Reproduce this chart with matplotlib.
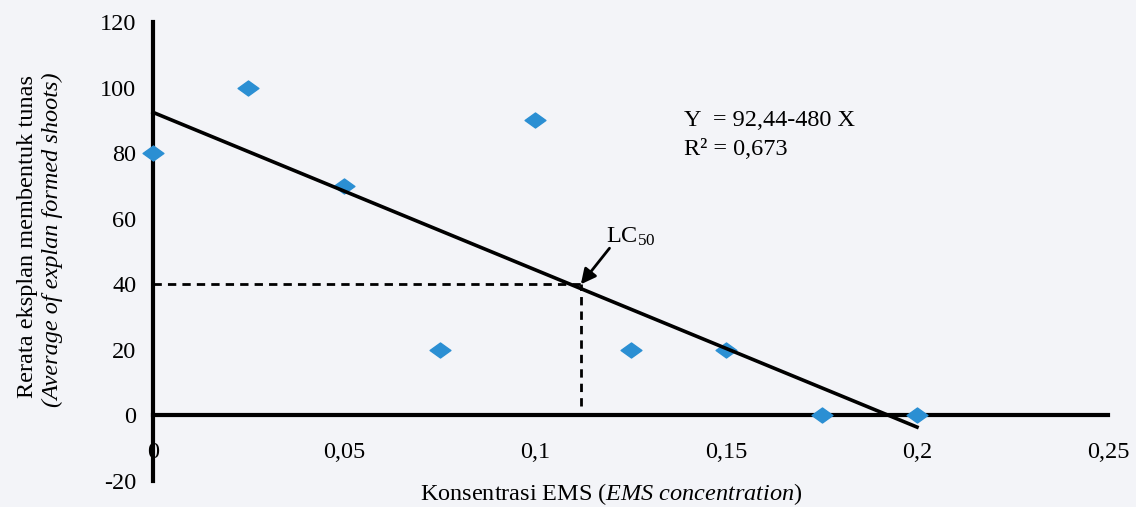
import numpy as np
import matplotlib.pyplot as plt
from matplotlib.path import Path

# EMS concentration (%) and mean explants forming shoots
ems = [0, 0.025, 0.05, 0.075, 0.1, 0.125, 0.15, 0.175, 0.2]
shoots = [80, 100, 70, 20, 90, 20, 20, 0, 0]

x_ticks = [0, 0.05, 0.1, 0.15, 0.2, 0.25]
x_labels = ['0', '0,05', '0,1', '0,15', '0,2', '0,25']
y_ticks = [-20, 0, 20, 40, 60, 80, 100, 120]

lc50_x = 0.112
lc50_y = 40

plt.rcParams['font.family'] = ['Liberation Serif', 'DejaVu Serif']
plt.rcParams['mathtext.fontset'] = 'custom'
plt.rcParams['mathtext.rm'] = 'Liberation Serif'
plt.rcParams['mathtext.it'] = 'Liberation Serif:italic'
plt.rcParams['axes.unicode_minus'] = False

BG = '#f3f4f8'
BLUE = '#2b8fd3'
FS = 17.5

fig = plt.figure(figsize=(11.36, 5.07), dpi=100, facecolor=BG)
ax = fig.add_axes([153/1136, 1 - 481/507, (1108 - 153)/1136, (481 - 22)/507])
ax.set_facecolor(BG)
ax.set_xlim(0, 0.25)
ax.set_ylim(-20, 120)

# flattened diamond like the excel marker
diamond = Path([(-1, 0), (0, 0.72), (1, 0), (0, -0.72), (-1, 0)],
               [Path.MOVETO, Path.LINETO, Path.LINETO, Path.LINETO, Path.CLOSEPOLY])

# linear fit
slope, icpt = np.polyfit(ems, shoots, 1)
fx = np.array([ems[0], ems[-1]])
ax.plot(fx, icpt + slope * fx, color='black', lw=2.6, clip_on=False, zorder=4)

ax.plot(ems, shoots, linestyle='none', marker=diamond, ms=15,
        color=BLUE, mec=BLUE, clip_on=False, zorder=3)

# LC50 guides
ax.plot([0, lc50_x], [lc50_y, lc50_y], color='black', lw=2, ls=(0, (3, 2.2)), zorder=2)
ax.plot([lc50_x, lc50_x], [3, lc50_y], color='black', lw=2, ls=(0, (3, 2.2)), zorder=2)

ax.annotate('', xy=(lc50_x, lc50_y), xytext=(0.1195, 51),
            arrowprops=dict(arrowstyle='-|>,head_length=0.9,head_width=0.45',
                            color='black', lw=2, shrinkA=0, shrinkB=0))
ax.text(0.1185, 54.5, 'LC$_{50}$', fontsize=FS, ha='left', va='center')

ax.text(0.139, 90, 'Y  = 92,44-480 X', fontsize=FS, ha='left', va='center')
ax.text(0.139, 81, 'R² = 0,673', fontsize=FS, ha='left', va='center')

# axes
for s in ['top', 'right']:
    ax.spines[s].set_visible(False)
ax.spines['left'].set_linewidth(3)
ax.spines['bottom'].set_linewidth(3)
ax.spines['bottom'].set_position(('data', 0))
ax.set_xticks(x_ticks)
ax.set_xticklabels(x_labels)
ax.set_yticks(y_ticks)
ax.tick_params(axis='both', length=0, labelsize=FS)
ax.tick_params(axis='x', pad=19)
ax.tick_params(axis='y', pad=12)

fig.text(28/1136, 1 - 237/507, 'Rerata eksplan membentuk tunas', rotation=90,
         fontsize=FS, ha='center', va='center')
fig.text(52/1136, 1 - 240/507, '(Average of explan formed shoots)', rotation=90,
         fontsize=FS, style='italic', ha='center', va='center')
fig.text(611/1136, 1 - 494/507, 'Konsentrasi EMS ($\\mathit{EMS\\ concentration}$)',
         fontsize=FS, ha='center', va='center')

fig.savefig('out.png', dpi=100, facecolor=BG)
